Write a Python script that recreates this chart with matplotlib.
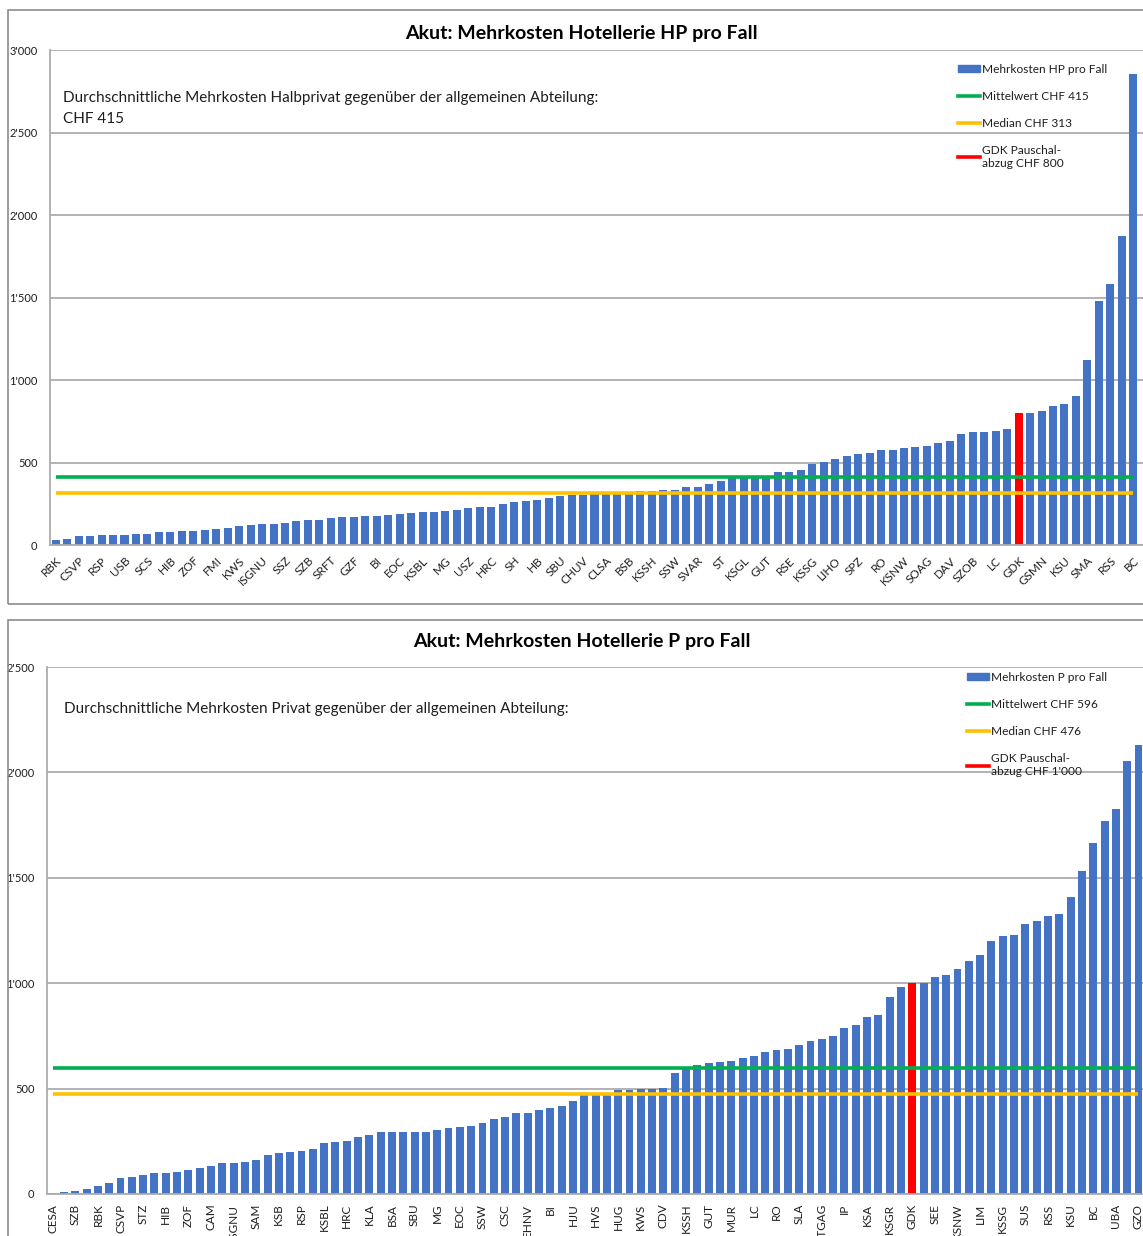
import matplotlib
matplotlib.use('Agg')
import matplotlib.pyplot as plt
from matplotlib.patches import Patch, Rectangle
from matplotlib.lines import Line2D
from matplotlib.ticker import FuncFormatter, MultipleLocator

plt.rcParams['font.family'] = ['Lato', 'DejaVu Sans']

# ---------------- data: half-private (HP) ----------------
hp_labels = ['RBK', 'CSVP', 'RSP', 'USB', 'SCS', 'HIB', 'ZOF', 'FMI', 'KWS', 'ISGNU',
             'SSZ', 'SZB', 'SRFT', 'GZF', 'BI', 'EOC', 'KSBL', 'MG', 'USZ', 'HRC',
             'SH', 'HB', 'SBU', 'CHUV', 'CLSA', 'BSB', 'KSSH', 'SSW', 'SVAR', 'ST',
             'KSGL', 'GUT', 'RSE', 'KSSG', 'LIHO', 'SPZ', 'RO', 'KSNW', 'SOAG', 'DAV',
             'SZOB', 'LC', 'GDK', 'GSMN', 'KSU', 'SMA', 'RSS', 'BC']
hp_values = [32, 38, 55, 55, 61, 61, 61, 67, 67, 79,
             79, 85, 85, 91, 97, 103, 115, 121, 127, 127,
             134, 146, 152, 152, 162, 170, 170, 176, 176, 180,
             188, 194, 200, 200, 206, 213, 225, 231, 231, 249,
             261, 267, 273, 285, 300, 302, 305, 307, 310, 312,
             313, 328, 328, 334, 334, 352, 352, 370, 389, 408,
             412, 416, 420, 441, 441, 452, 489, 502, 520, 539,
             550, 556, 574, 574, 587, 593, 598, 621, 628, 671,
             682, 682, 693, 706, 800, 803, 814, 844, 857, 905,
             1121, 1479, 1583, 1875, 2853]
hp_mean = 415
hp_median = 313
hp_gdk = 800

# ---------------- data: private (P) ----------------
p_labels = ['CESA', 'SZB', 'RBK', 'CSVP', 'STZ', 'HIB', 'ZOF', 'CAM', 'ISGNU', 'SAM',
            'KSB', 'RSP', 'KSBL', 'HRC', 'KLA', 'BSA', 'SBU', 'MG', 'EOC', 'SSW',
            'CSC', 'EHNV', 'BI', 'HJU', 'HVS', 'HUG', 'KWS', 'CDV', 'KSSH', 'GUT',
            'MUR', 'LC', 'RO', 'SLA', 'STGAG', 'IP', 'KSA', 'KSGR', 'GDK', 'SEE',
            'KSNW', 'LIM', 'KSSG', 'SUS', 'RSS', 'KSU', 'BC', 'UBA', 'GZO']
p_values = [5, 9, 14, 24, 38, 52, 76, 80, 90, 99,
            99, 104, 114, 123, 132, 147, 147, 151, 161, 184,
            194, 199, 203, 213, 241, 246, 251, 270, 279, 293,
            293, 294, 294, 294, 305, 313, 317, 322, 336, 355,
            365, 384, 384, 398, 408, 417, 441, 472, 476, 478,
            494, 494, 500, 500, 501, 574, 598, 614, 622, 627,
            632, 646, 655, 675, 682, 689, 708, 727, 733, 750,
            788, 802, 842, 851, 936, 983, 1000, 1000, 1028, 1040,
            1066, 1104, 1134, 1198, 1222, 1231, 1279, 1293, 1321, 1328,
            1411, 1533, 1667, 1771, 1826, 2054, 2128]
p_mean = 596
p_median = 476
p_gdk = 1000

BLUE = '#4472C4'
RED = '#FF0000'
GREEN = '#00B050'
YELLOW = '#FFC000'
GRID = '#ADADAD'
TXT = '#1E1E1E'
W, H = 1143, 1236


def thousands(v, pos):
    return f"{int(round(v)):,}".replace(',', "'")


def fx(px):
    return px / W


def fy(py):
    return 1 - py / H


fig = plt.figure(figsize=(W / 100, H / 100), dpi=100)

# chart frames (Excel chart areas)
for top, bot in [(10, 604), (620, 1240)]:
    fig.add_artist(Rectangle((fx(8), fy(bot)), 1.2, (bot - top) / H,
                             transform=fig.transFigure, fill=False,
                             edgecolor='#8C8C8C', lw=1.2))


def draw(rect, values, shown, mean, median, ymax, xmax, rot, title, title_y,
         legend_labels, leg_anchor, note, note_xy, note_va):
    n = len(values)
    full = [''] * n
    full[0::2] = shown
    colors = [RED if l == 'GDK' else BLUE for l in full]
    x = list(range(n))
    ax = fig.add_axes(rect)
    ax.bar(x, values, width=0.7, color=colors, zorder=2)
    ax.plot(x, [mean] * n, color=GREEN, lw=2.6, zorder=3, solid_capstyle='butt')
    ax.plot(x, [median] * n, color=YELLOW, lw=2.6, zorder=3, solid_capstyle='butt')
    ax.set_xlim(-0.5, xmax)
    ax.set_ylim(0, ymax)
    ax.yaxis.set_major_locator(MultipleLocator(500))
    ax.yaxis.set_major_formatter(FuncFormatter(thousands))
    ax.yaxis.grid(True, color=GRID, lw=1.3, zorder=0)
    ax.set_axisbelow(True)
    for s in ['top', 'right']:
        ax.spines[s].set_visible(False)
    for s in ['left', 'bottom']:
        ax.spines[s].set_color(GRID)
        ax.spines[s].set_linewidth(1.3)
    ax.set_xticks(x[0::2])
    if rot == 45:
        ax.set_xticklabels(shown, rotation=45, ha='right', rotation_mode='anchor',
                           fontsize=8.5, color=TXT)
        ax.tick_params(axis='x', length=0, pad=7)
    else:
        ax.set_xticklabels(shown, rotation=90, fontsize=8.5, color=TXT)
        ax.tick_params(axis='x', length=0, pad=7)
    ax.tick_params(axis='y', length=0, pad=9, labelsize=8, labelcolor=TXT)
    fig.text(0.509, title_y, title, ha='center', va='center', fontsize=14,
             weight='bold', color='black')
    handles = [Patch(color=BLUE), Line2D([], [], color=GREEN, lw=2.6),
               Line2D([], [], color=YELLOW, lw=2.6), Line2D([], [], color=RED, lw=2.6)]
    ax.legend(handles, legend_labels, loc='upper left', bbox_to_anchor=leg_anchor,
              frameon=False, fontsize=8.6, labelspacing=1.34, handlelength=1.85,
              handleheight=0.5, handletextpad=0.2, borderpad=0, borderaxespad=0,
              labelcolor=TXT)
    ax.text(note_xy[0], note_xy[1], note, transform=ax.transAxes, ha='left',
            va=note_va, fontsize=11, color=TXT, linespacing=1.65)
    return ax


# top chart: HP
draw([fx(50), fy(545), 1 - fx(50), (545 - 50) / H], hp_values, hp_labels,
     hp_mean, hp_median, 3000, 94.85, 45,
     'Akut: Mehrkosten Hotellerie HP pro Fall', fy(33),
     ['Mehrkosten HP pro Fall', f'Mittelwert CHF {hp_mean}',
      f'Median CHF {hp_median}', f'GDK Pauschal-\nabzug CHF {hp_gdk}'],
     (0.8307, 0.972),
     'Durchschnittliche Mehrkosten Halbprivat gegenüber der allgemeinen Abteilung:\nCHF 415',
     (0.0119, 0.918), 'top')

# bottom chart: P
draw([fx(47), fy(1194), 1 - fx(47), (1194 - 667) / H], p_values, p_labels,
     p_mean, p_median, 2500, 96.4, 90,
     'Akut: Mehrkosten Hotellerie P pro Fall', fy(642),
     ['Mehrkosten P pro Fall', f'Mittelwert CHF {p_mean}',
      f'Median CHF {p_median}', "GDK Pauschal-\nabzug CHF 1'000"],
     (0.839, 0.9905),
     'Durchschnittliche Mehrkosten Privat gegenüber der allgemeinen Abteilung:',
     (0.0155, 0.920), 'center')

fig.savefig('out.png', dpi=100)
